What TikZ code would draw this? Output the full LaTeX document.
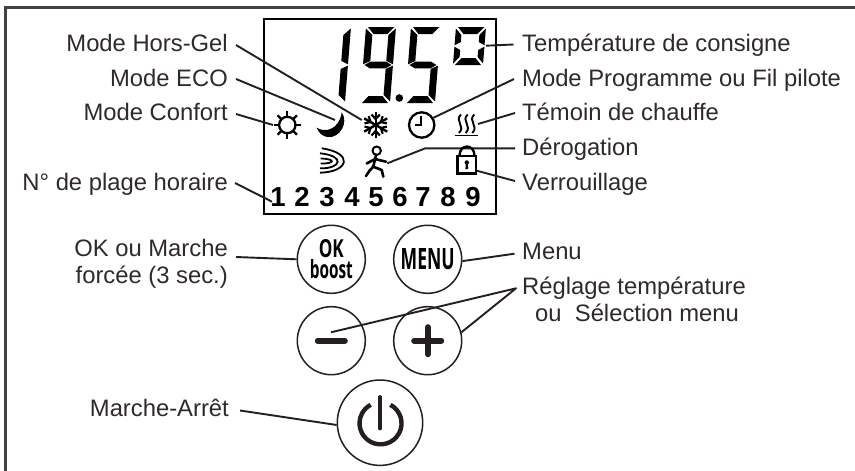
\documentclass[tikz,border=0pt]{standalone}
\usepackage{fontspec}
\setmainfont{Liberation Sans}
\newfontfamily\btnfont{Open Sans}
\definecolor{ink}{HTML}{231F20}
\tikzset{
  lbl/.style={font=\fontsize{23.8}{26}\selectfont,text=ink!95!white,inner sep=0pt},
  lblR/.style={lbl,anchor=base east},
  lblL/.style={lbl,anchor=base west},
  conn/.style={draw=ink,line width=1.9pt},
  btn/.style={circle,draw=ink,line width=1.5pt,minimum size=68pt,inner sep=0pt},
  icon/.style={draw=black,line width=2.3pt},
  num/.style={font=\fontsize{27.5}{27}\selectfont\bfseries,inner sep=0pt,anchor=base,text=black},
  frameline/.style={draw=ink!85!white,line width=2.2pt},
}
\newcommand{\sega}{\fill (2,0)--(28.5,0)--(22,7)--(8,7)--cycle;}
\newcommand{\segd}{\fill (2,\HH)--(28,\HH)--(22,\HH-7)--(8,\HH-7)--cycle;}
\newcommand{\segf}{\fill (0,1.5)--(\TT,8)--(\TT,\MM-4)--(0,\MM-0.7)--cycle;}
\newcommand{\sege}{\fill (0,\MM+0.7)--(\TT,\MM+4)--(\TT,\HH-8)--(0,\HH-1.5)--cycle;}
\newcommand{\segb}{\fill (30,1.5)--(30-\TT,8)--(30-\TT,\MM-4)--(30,\MM-0.7)--cycle;}
\newcommand{\segc}{\fill (30,\MM+0.7)--(30-\TT,\MM+4)--(30-\TT,\HH-8)--(30,\HH-1.5)--cycle;}
\newcommand{\segg}{\fill (1.5,\MM)--(7,\MM-3.3)--(23,\MM-3.3)--(28.5,\MM)--(23,\MM+3.3)--(7,\MM+3.3)--cycle;}
\begin{document}
\begin{tikzpicture}[x=1pt,y=-1pt]
\useasboundingbox (0,0) rectangle (855,471);
\fill[white] (0,0) rectangle (855,471);
% outer frame (cropped on two sides)
\draw[frameline] (5.5,471) -- (5.5,7.5) -- (855,7.5);
% LCD
\node[draw=black,line width=2pt,minimum width=232pt,minimum height=195pt,inner sep=0pt] (lcd) at (380,116.5) {};
% digits
\def\HH{76}\def\MM{38}\def\TT{7}
\begin{scope}[shift={(321,27)},xslant=0.08]\segb\segc\end{scope}
\begin{scope}[shift={(366,27)},xslant=0.08]\sega\segb\segc\segd\segf\segg\end{scope}
\begin{scope}[shift={(411,27)},xslant=0.08]\sega\segc\segd\segf\segg\end{scope}
\def\HH{38}\def\MM{19}\def\TT{6}
\begin{scope}[shift={(456,27)},xslant=0.08]\sega\segb\segc\segd\sege\segf\end{scope}
\fill (399.3,98) circle (3.8);
% sun
\draw[icon] (287.3,125) circle (8.2);
\foreach \a in {0,45,...,315} \draw[icon] (287.3,125)++(\a:8.2) -- ++(\a:5.5);
\coordinate (sunW) at (273,125);
% moon
\fill (341.7,112.3) .. controls (349,122) and (340,139) .. (327,137) .. controls (322,136) and (318,132) .. (316.7,127.7) .. controls (325,133) and (339,130) .. cycle;
\coordinate (moonE) at (335,120);
% snowflake
\foreach \a in {30,90,...,330} {
  \begin{scope}[shift={(375.7,125)},rotate=\a]
    \draw[icon,line width=2.4pt] (0,0) -- (13.3,0);
    \draw[icon,line width=2.2pt] (10.5,-4.2) -- (6,0) -- (10.5,4.2);
  \end{scope}
}
\coordinate (snowW) at (361.7,120);
% clock
\draw[icon] (421.7,125) circle (12.7);
\draw[icon] (421.3,116) -- (421.3,125) -- (415,125);
\coordinate (clockE) at (433,118);
% heat
\foreach \x in {460,466.7,473.3}
  \draw[icon,line width=1.9pt] (\x+1,114.5) .. controls (\x-6,121) and (\x+6,126) .. (\x-1,133);
\draw[icon,line width=1.4pt] (455,135.7) -- (478,135.7);
\coordinate (heatE) at (478,124);
% waves
\draw[icon,line width=1.8pt] (321.7,148.3) .. controls (354,153) and (349,172) .. (320,172.7);
\draw[icon,line width=1.8pt] (320,153.3) .. controls (346,156) and (341,169) .. (320,168.3);
\draw[icon,line width=1.8pt] (320.7,158.5) .. controls (337,159) and (334,164) .. (320.7,163.5);
% runner
\draw[icon,line width=2pt] (376.7,150.7) circle (4.2);
\draw[icon,line width=2.6pt,line join=round,line cap=round] (376,155) -- (373.3,166.7) -- (369.3,171) -- (366,176);
\draw[icon,line width=2.6pt,line join=round,line cap=round] (373.3,166.7) -- (381.7,170) -- (383.3,176.7);
\draw[icon,line width=2.6pt,line join=round,line cap=round] (366.7,163.5) -- (375,159) -- (386,161.7);
\coordinate (runE) at (387.3,163.3);
% Derogation connector runs behind the padlock
\node[lblL] (lDer) at (522,155) {Dérogation};
\coordinate (dA) at (515,148.4);
\coordinate (dB) at (425,148.4);
\draw[conn] (dA) -- (dB) -- (runE);
% padlock
\draw[icon,fill=white,line width=2.4pt,line join=miter] (457.6,155.7) rectangle (476,173.3);
\draw[icon,line width=2.4pt] (459.5,155.7) .. controls (459.5,143.5) and (474.5,143.5) .. (474.5,155.7);
\fill (466.8,162.5) circle (2.2);
\fill (466,162.5) -- (467.6,162.5) -- (468.2,169) -- (465.4,169) -- cycle;
\coordinate (lockE) at (476.7,170.7);
% slot numbers
\foreach \n/\x in {1/278,2/302,3/327,4/352,5/376,6/400,7/423,8/448,9/473}
  \node[num] (n\n) at (\x,206) {\n};
\coordinate (n1W) at (272,201.7);
% buttons
\node[btn,font=\btnfont\bfseries] (ok) at (331.3,259.3) {\shortstack[c]{\resizebox{25pt}{18pt}{OK}\\[-1pt]\resizebox{43pt}{19pt}{boost}}};
\node[btn] (menu) at (427.7,259.3) {\resizebox{54pt}{21pt}{\btnfont\bfseries MENU}};
\node[btn] (minus) at (331.3,340.7) {};
\node[btn] (plus) at (427.7,340.7) {};
\node[btn,minimum size=85.4pt] (power) at (380,422.7) {};
\draw[draw=ink,line width=6pt,line cap=round] ([xshift=-13.5pt]minus.center) -- ([xshift=13.5pt]minus.center);
\draw[draw=ink,line width=6pt,line cap=round] ([xshift=-13.5pt]plus.center) -- ([xshift=13.5pt]plus.center);
\draw[draw=ink,line width=6pt,line cap=round] ([yshift=13.5pt]plus.center) -- ([yshift=-13.5pt]plus.center);
\draw[draw=ink,line width=3.8pt,line cap=round] (380,397) -- (380,428.5);
\draw[draw=ink,line width=4.4pt] (390.4,404.8) arc[start angle=-62,end angle=242,radius=21];
% labels
\node[lblR] (lHG) at (228,51) {Mode Hors-Gel};
\node[lblR] (lEco) at (228,86) {Mode ECO};
\node[lblR] (lConf) at (228,120) {Mode Confort};
\node[lblR] (lPl) at (228,190) {N° de plage horaire};
\node[lblR] (lOk1) at (228,256) {OK ou Marche};
\node[lblR] (lOk2) at (228,283) {forcée (3 sec.)};
\node[lblR] (lMA) at (229,416) {Marche-Arrêt};
\node[lblL] (lT) at (522,51) {Température de consigne};
\node[lblL] (lP) at (522,86.5) {Mode Programme ou Fil pilote};
\node[lblL] (lCh) at (522,120) {Témoin de chauffe};
\node[lblL] (lV) at (522,190) {Verrouillage};
\node[lblL] (lM) at (522,259) {Menu};
\node[lblL] (lR1) at (522,294) {Réglage température};
\node[lblL] (lR2) at (535,321) {ou\ \ Sélection menu};
% connector ends
\coordinate (aHG) at (236,45);
\coordinate (aEco) at (236,79);
\coordinate (aConf) at (236,114);
\coordinate (aPl) at (235,183);
\coordinate (aOk) at (236,257);
\coordinate (aMA) at (240,410.5);
\coordinate (aT) at (513.5,44.5);
\coordinate (bT) at (486,45.7);
\coordinate (aP) at (514,79);
\coordinate (aCh) at (515,113);
\coordinate (aV) at (515,181);
\coordinate (aM) at (514.5,253.7);
\coordinate (aR) at (516,288.3);
\coordinate (mIn) at (331,332.3);
\draw[conn] (aHG) -- (snowW);
\draw[conn] (aEco) -- (moonE);
\draw[conn] (aConf) -- (sunW);
\draw[conn] (aPl) -- (n1W);
\draw[conn] (aOk) -- (ok.west);
\draw[conn] (aMA) -- (power.183);
\draw[conn] (aT) -- (bT);
\draw[conn] (aP) -- (clockE);
\draw[conn] (aCh) -- (heatE);
\draw[conn] (aV) -- (lockE);
\draw[conn] (aM) -- (menu.-3);
\draw[conn,line join=round] (mIn) -- (aR) -- (plus.14);
\end{tikzpicture}
\end{document}
